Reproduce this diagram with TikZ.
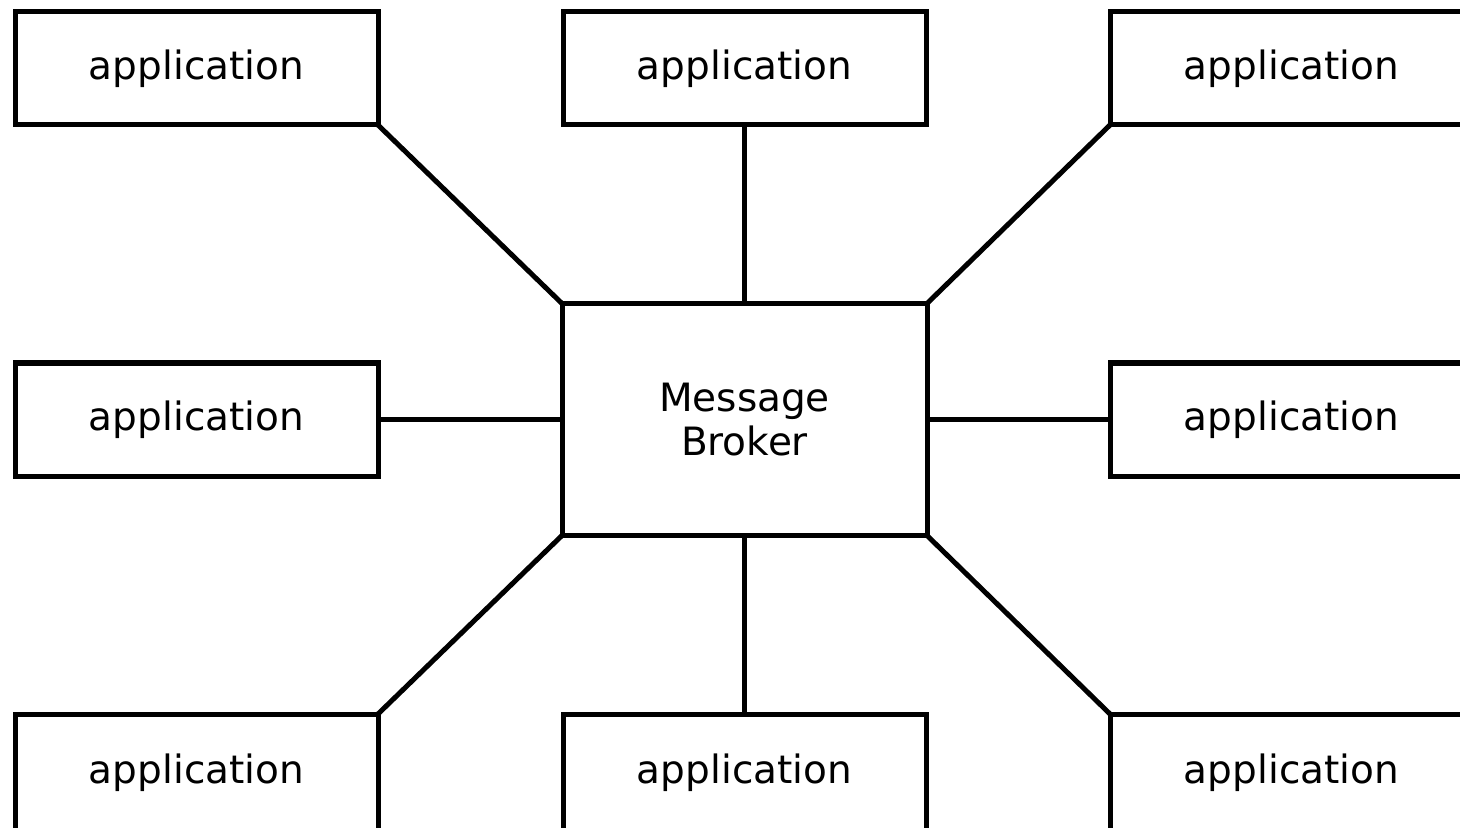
\documentclass[tikz,border=0pt]{standalone}
\usepackage{fontspec}
\setmainfont{DejaVu Sans}
\begin{document}
\begin{tikzpicture}[x=0.5pt,y=-0.5pt,
  box/.style={draw=black, line width=2.5pt, fill=white, inner sep=0pt, outer sep=0pt,
    minimum width=181.5pt, minimum height=56.5pt, font=\fontsize{19.5}{22}\selectfont},
  lowbox/.style={box, minimum height=59pt},
  broker/.style={box, minimum width=182.5pt, minimum height=116pt, align=center},
  link/.style={draw=black, line width=2.5pt}]
\useasboundingbox (0,0) rectangle (1460,828);
\clip (0,0) rectangle (1460,828);
% applications around the broker
\node[box] (tl) at (196.5,68.5) {application};
\node[box] (tm) at (744.5,68.5) {application};
\node[box] (tr) at (1291.5,68.5) {application};
\node[box] (ml) at (196.5,419.5) {application};
\node[box] (mr) at (1291.5,419.5) {application};
\node[lowbox] (bl) at (196.5,773) {application};
\node[lowbox] (bm) at (744.5,773) {application};
\node[lowbox] (br) at (1291.5,773) {application};
% central broker
\node[broker] (mb) at (744.5,419.5) {Message\\Broker};
% connections
\draw[link] (mb.north west) -- (tl.south east);
\draw[link] (mb.north) -- (tm.south);
\draw[link] (mb.north east) -- (tr.south west);
\draw[link] (mb.west) -- (ml.east);
\draw[link] (mb.east) -- (mr.west);
\draw[link] (mb.south west) -- (bl.north east);
\draw[link] (mb.south) -- (bm.north);
\draw[link] (mb.south east) -- (br.north west);
\end{tikzpicture}
\end{document}
